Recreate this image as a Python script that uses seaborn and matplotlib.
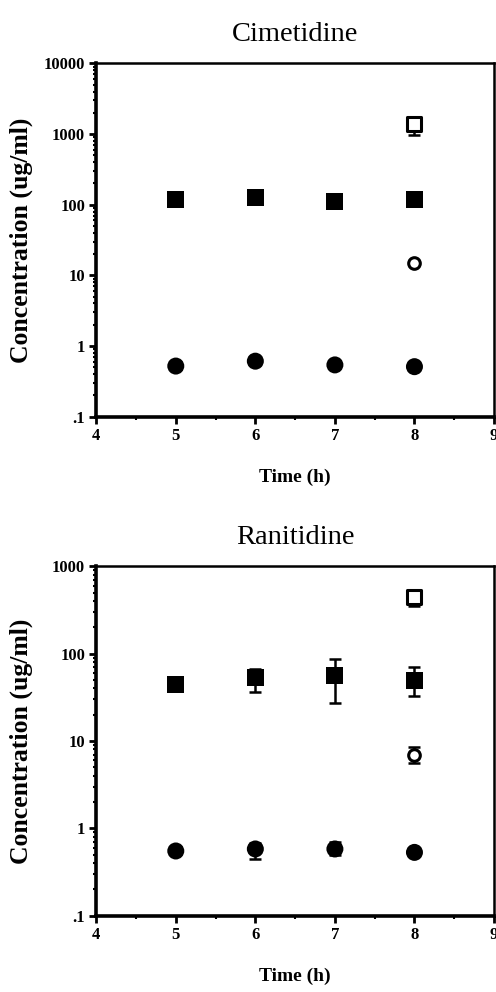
import matplotlib
matplotlib.use("Agg")
import matplotlib.pyplot as plt
from matplotlib.ticker import FixedLocator, FixedFormatter, LogLocator, NullFormatter, MultipleLocator
import numpy as np
import pandas as pd
import seaborn as sns

TIME = [5, 6, 7, 8]

# Cimetidine
CIM_SQ = [118, 125, 112, 118]
CIM_SQ_LO = [110, 117, 100, 110]
CIM_SQ_HI = [126, 133, 125, 126]
CIM_CI = [0.52, 0.61, 0.54, 0.51]
CIM_CI_LO = [0.47, 0.53, 0.50, 0.47]
CIM_CI_HI = [0.57, 0.68, 0.58, 0.55]
CIM_OSQ, CIM_OSQ_LO, CIM_OSQ_HI = 1380, 960, 1650
CIM_OCI, CIM_OCI_LO, CIM_OCI_HI = 15, 14, 16

# Ranitidine
RAN_SQ = [44, 53, 57, 49]
RAN_SQ_LO = [41, 36, 27, 33]
RAN_SQ_HI = [47, 67, 87, 71]
RAN_CI = [0.55, 0.58, 0.58, 0.53]
RAN_CI_LO = [0.52, 0.45, 0.50, 0.50]
RAN_CI_HI = [0.58, 0.68, 0.69, 0.56]
RAN_OSQ, RAN_OSQ_LO, RAN_OSQ_HI = 452, 352, 520
RAN_OCI, RAN_OCI_LO, RAN_OCI_HI = 7.0, 5.6, 8.5

SERIF = ["Liberation Serif", "DejaVu Serif"]


def panel(ax, title, sq, sq_lo, sq_hi, ci, ci_lo, ci_hi, osq, oci, ymax, yticks, ylabels):
    df = pd.DataFrame({"time": TIME * 2, "conc": sq + ci,
                       "kind": ["sq"] * 4 + ["ci"] * 4})
    # error bars
    ax.errorbar(TIME, sq, yerr=[np.subtract(sq, sq_lo), np.subtract(sq_hi, sq)],
                fmt="none", ecolor="black", elinewidth=1.8, capsize=4, capthick=1.8, zorder=2)
    ax.errorbar(TIME, ci, yerr=[np.subtract(ci, ci_lo), np.subtract(ci_hi, ci)],
                fmt="none", ecolor="black", elinewidth=1.8, capsize=4, capthick=1.8, zorder=2)
    for v, lo, hi in (osq, oci):
        ax.errorbar([8], [v], yerr=[[v - lo], [hi - v]], fmt="none", ecolor="black",
                    elinewidth=1.8, capsize=4, capthick=1.8, zorder=2)
    sns.scatterplot(data=df, x="time", y="conc", style="kind", markers={"sq": "s", "ci": "o"},
                    color="black", s=150, edgecolor="black", linewidth=0, legend=False, ax=ax, zorder=3)
    ax.scatter([8], [osq[0]], marker="s", s=100, facecolor="white", edgecolor="black", linewidth=2.2, zorder=3)
    ax.scatter([8], [oci[0]], marker="o", s=70, facecolor="white", edgecolor="black", linewidth=2.2, zorder=3)

    ax.set_yscale("log")
    ax.set_ylim(0.1, ymax)
    ax.set_xlim(4, 9)
    ax.xaxis.set_major_locator(MultipleLocator(1))
    ax.xaxis.set_minor_locator(MultipleLocator(0.5))
    ax.yaxis.set_major_locator(FixedLocator(yticks))
    ax.yaxis.set_major_formatter(FixedFormatter(ylabels))
    ax.yaxis.set_minor_locator(LogLocator(base=10, subs=np.arange(2, 10), numticks=20))
    ax.yaxis.set_minor_formatter(NullFormatter())
    ax.tick_params(axis="both", which="both", left=True, bottom=True, colors="black")
    ax.tick_params(axis="both", which="major", direction="out", length=5, width=2, labelsize=12, pad=3)
    ax.tick_params(axis="both", which="minor", direction="out", length=2.5, width=1.5)
    for lab in ax.get_xticklabels() + ax.get_yticklabels():
        lab.set_family(SERIF)
        lab.set_fontweight("bold")
    for side in ("left", "bottom"):
        ax.spines[side].set_linewidth(2.6)
        ax.spines[side].set_color("black")
    for side in ("top", "right"):
        ax.spines[side].set_linewidth(1.8)
        ax.spines[side].set_color("black")
    ax.set_title(title, fontsize=20.5, family=SERIF, color="black", pad=16)
    ax.set_xlabel("Time (h)", fontsize=14, fontweight="bold", family=SERIF, color="black", labelpad=18)
    ax.set_ylabel("Concentration (ug/ml)", fontsize=18.5, fontweight="bold", family=SERIF, color="black")
    ax.yaxis.set_label_coords(-0.16, 0.5)
    ax.grid(False)


sns.set_theme(style="white")
fig = plt.figure(figsize=(4.96, 9.92), dpi=100)
ax1 = fig.add_axes([0.194, 0.580, 0.802, 0.356])
ax2 = fig.add_axes([0.194, 0.077, 0.802, 0.352])

panel(ax1, "Cimetidine", CIM_SQ, CIM_SQ_LO, CIM_SQ_HI, CIM_CI, CIM_CI_LO, CIM_CI_HI,
      (CIM_OSQ, CIM_OSQ_LO, CIM_OSQ_HI), (CIM_OCI, CIM_OCI_LO, CIM_OCI_HI),
      10000, [0.1, 1, 10, 100, 1000, 10000], [".1", "1", "10", "100", "1000", "10000"])
panel(ax2, "Ranitidine", RAN_SQ, RAN_SQ_LO, RAN_SQ_HI, RAN_CI, RAN_CI_LO, RAN_CI_HI,
      (RAN_OSQ, RAN_OSQ_LO, RAN_OSQ_HI), (RAN_OCI, RAN_OCI_LO, RAN_OCI_HI),
      1000, [0.1, 1, 10, 100, 1000], [".1", "1", "10", "100", "1000"])

fig.savefig("out.png", dpi=100)
